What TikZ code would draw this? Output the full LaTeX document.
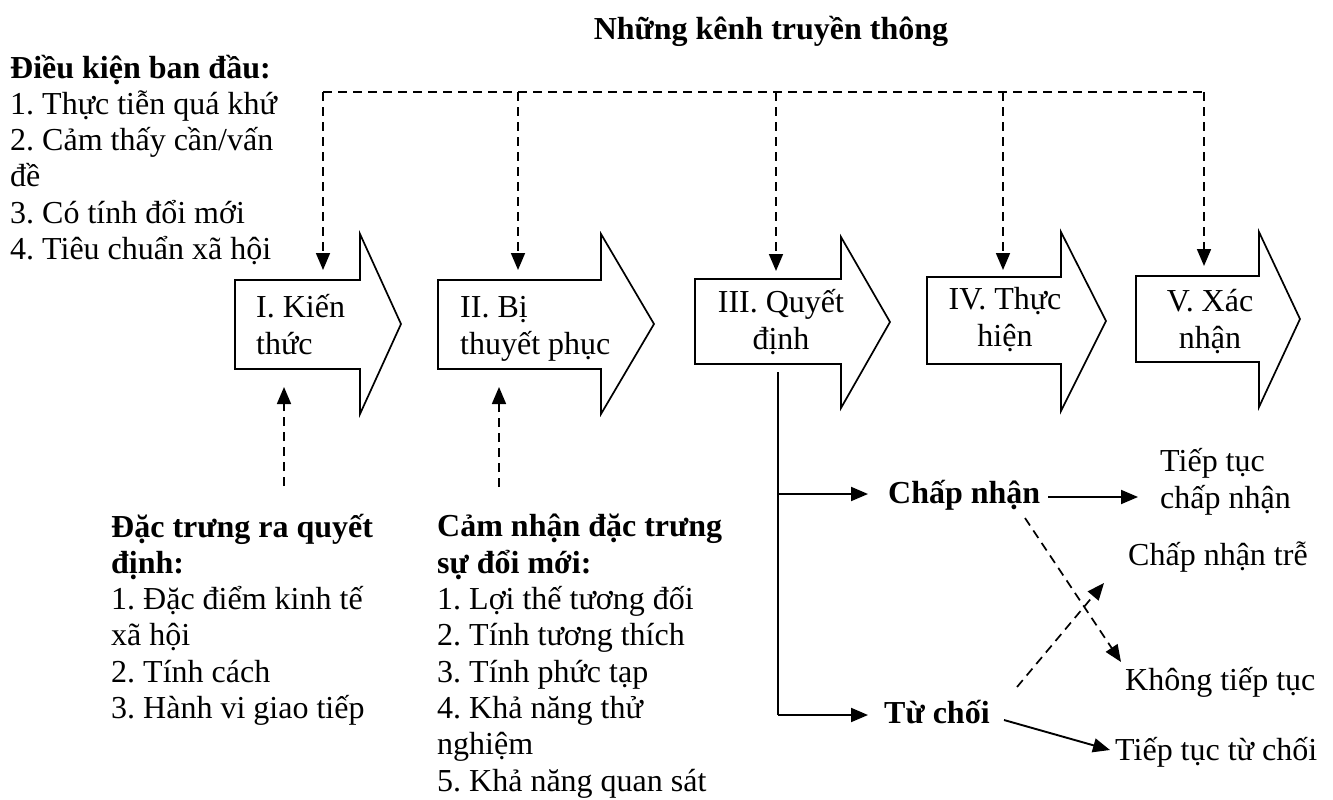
\documentclass[tikz,border=0pt]{standalone}
\usepackage{fontspec}
\setmainfont{Liberation Serif}
\usetikzlibrary{arrows.meta}
\lineskiplimit=-100pt
\frenchspacing
\begin{document}
\begin{tikzpicture}[x=1pt,y=-1pt,
  txt/.style={inner sep=0pt, anchor=base west, align=left,
              font=\fontsize{32}{36.3}\selectfont},
  ctxt/.style={txt, anchor=base, align=center},
  stagebox/.style={draw, line width=1.7pt, fill=white, line join=miter},
  chan/.style={line width=1.7pt, dash pattern=on 9pt off 6pt},
  solidln/.style={line width=1.9pt},
  tip/.style={-{Triangle[length=17pt,width=14pt]}}
]
\useasboundingbox (0,0) rectangle (1333,800);
% multi-line text nodes are placed by the baseline of their last line

% title and initial conditions
\node[ctxt, font=\fontsize{32}{36.3}\selectfont\bfseries] (title) at (771,40) {Những kênh truyền thông};
\node[txt] (cond) at (10,259.5) {\textbf{Điều kiện ban đầu:}\\1. Thực tiễn quá khứ\\2. Cảm thấy cần/vấn\\đề\\3. Có tính đổi mới\\4. Tiêu chuẩn xã hội};

% the five stage arrows
\draw[stagebox] (235,280) -- (360,280) -- (360,234) -- (401,324) -- (360,414) -- (360,369) -- (235,369) -- cycle;
\draw[stagebox] (438,280) -- (601,280) -- (601,234) -- (654,324) -- (601,414) -- (601,369) -- (438,369) -- cycle;
\draw[stagebox] (695,279) -- (841,279) -- (841,237) -- (890,322) -- (841,408) -- (841,364) -- (695,364) -- cycle;
\draw[stagebox] (927,277) -- (1061,277) -- (1061,232) -- (1106,321) -- (1061,411) -- (1061,364) -- (927,364) -- cycle;
\draw[stagebox] (1136,276) -- (1259,276) -- (1259,232) -- (1300,319) -- (1259,407) -- (1259,362) -- (1136,362) -- cycle;

\node[txt] (s1) at (256,354) {I. Kiến\\thức};
\node[txt] (s2) at (460,354) {II. Bị\\thuyết phục};
\node[ctxt] (s3) at (781,349) {III. Quyết\\định};
\node[ctxt] (s4) at (1005,346) {IV. Thực\\hiện};
\node[ctxt] (s5) at (1210,348) {V. Xác\\nhận};

% communication channels
\coordinate (c1) at (323,92);  \coordinate (t1) at (323,270);
\coordinate (c2) at (518,92);  \coordinate (t2) at (518,270);
\coordinate (c3) at (776,92);  \coordinate (t3) at (776,271);
\coordinate (c4) at (1003,92); \coordinate (t4) at (1003,270);
\coordinate (c5) at (1204,92); \coordinate (t5) at (1204,266);
\draw[chan] (c1) -- (c5);
\draw[chan,tip] (c1) -- (t1);
\draw[chan,tip] (c2) -- (t2);
\draw[chan,tip] (c3) -- (t3);
\draw[chan,tip] (c4) -- (t4);
\draw[chan,tip] (c5) -- (t5);

% characteristics feeding stages I and II
\node[txt] (dm) at (111,718.5) {\textbf{Đặc trưng ra quyết}\\\textbf{định:}\\1. Đặc điểm kinh tế\\xã hội\\2. Tính cách\\3. Hành vi giao tiếp};
\node[txt] (pc) at (437,791) {\textbf{Cảm nhận đặc trưng}\\\textbf{sự đổi mới:}\\1. Lợi thế tương đối\\2. Tính tương thích\\3. Tính phức tạp\\4. Khả năng thử\\nghiệm\\5. Khả năng quan sát};
\coordinate (u1) at (284,486); \coordinate (u1e) at (284,387);
\coordinate (u2) at (499,487); \coordinate (u2e) at (499,387);
\draw[chan,tip] (u1) -- (u1e);
\draw[chan,tip] (u2) -- (u2e);

% decision outcomes
\node[txt, font=\fontsize{32}{36.3}\selectfont\bfseries] (accept) at (888,503) {Chấp nhận};
\node[txt, font=\fontsize{32}{36.3}\selectfont\bfseries] (reject) at (884,723) {Từ chối};
\node[txt] (contA) at (1160,508) {Tiếp tục\\chấp nhận};
\node[txt] (late) at (1128,565) {Chấp nhận trễ};
\node[txt] (discont) at (1125,690) {Không tiếp tục};
\node[txt] (contR) at (1115,760) {Tiếp tục từ chối};

\coordinate (d0) at (778,372);
\coordinate (d1) at (778,494);
\coordinate (d2) at (778,715);
\coordinate (a1) at (868,494);
\coordinate (r1) at (868,715);
\draw[solidln] (d0) -- (d2);
\draw[solidln,tip] (d1) -- (a1);
\draw[solidln,tip] (d2) -- (r1);

\coordinate (ae) at (1048,497); \coordinate (cae) at (1138,497);
\draw[solidln,tip] (ae) -- (cae);
\coordinate (re) at (1004,720); \coordinate (cre) at (1110,750);
\draw[solidln,tip] (re) -- (cre);
\coordinate (ad) at (1025,518); \coordinate (dd) at (1121,662);
\draw[chan,tip] (ad) -- (dd);
\coordinate (rl) at (1017,687); \coordinate (ll) at (1104,583);
\draw[chan,tip] (rl) -- (ll);
\end{tikzpicture}
\end{document}
